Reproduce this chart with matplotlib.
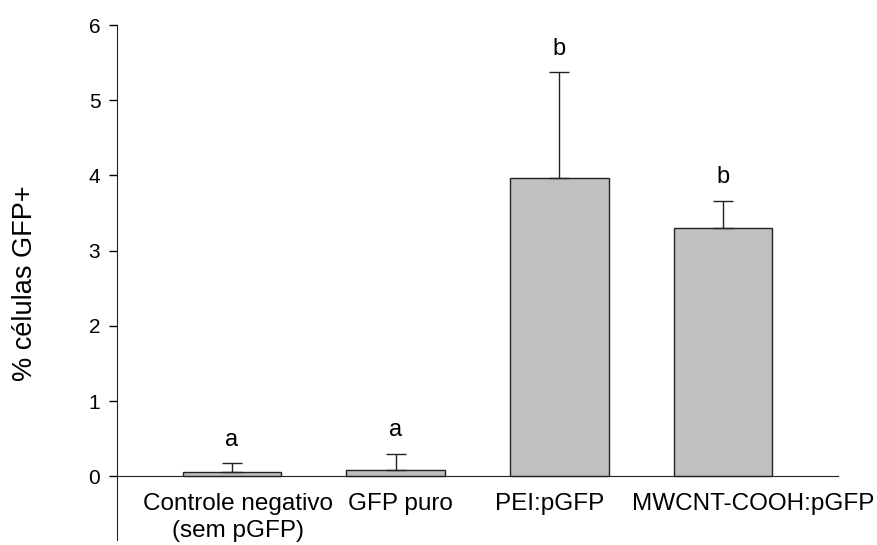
import numpy as np
import matplotlib.pyplot as plt

plt.rcParams['font.family'] = ['Liberation Sans', 'DejaVu Sans']

# dados
grupos = ['Controle negativo\n(sem pGFP)', 'GFP puro', 'PEI:pGFP', 'MWCNT-COOH:pGFP']
medias = [0.05, 0.08, 3.96, 3.30]
erros = [0.12, 0.22, 1.41, 0.36]
letras = ['a', 'a', 'b', 'b']

# deslocamento horizontal dos rótulos (px), como no original
desloc_px = [6, 5, -10, 30]

fig = plt.figure(figsize=(8.77, 5.45), dpi=100)
ax = fig.add_axes([0.1334, 0.009, 0.8221, 0.945])

x = np.arange(len(grupos))
ax.bar(x, medias, width=0.6, color='#c0c0c0', edgecolor='#222222', linewidth=1.0, zorder=2)
ax.errorbar(x, medias, yerr=[np.zeros(len(erros)), erros], fmt='none',
            ecolor='#222222', elinewidth=1.0, capsize=7, capthick=1.0, zorder=3)

for xi, m, e, l in zip(x, medias, erros, letras):
    ax.text(xi, m + e + 0.17, l, ha='center', va='bottom', fontsize=17)

# rótulos do eixo x como texto (para poder deslocar)
for xi, g, d in zip(x, grupos, desloc_px):
    ax.annotate(g, xy=(xi, 0), xytext=(d, -17), textcoords='offset pixels',
                ha='center', va='top', fontsize=17.5, linespacing=1.3)

ax.set_xlim(-0.7, 3.7)
ax.set_ylim(-0.85, 6)
ax.set_yticks(range(0, 7))
ax.set_xticks([])
ax.tick_params(axis='y', labelsize=15, length=6, width=1, pad=6)

ax.spines['top'].set_visible(False)
ax.spines['right'].set_visible(False)
ax.spines['bottom'].set_position(('data', 0))
ax.spines['left'].set_color('#222222')
ax.spines['bottom'].set_color('#222222')

ax.set_ylabel('% células GFP+', fontsize=19.5)
ax.yaxis.set_label_coords(-0.11, 0.498)

fig.savefig('out.png', dpi=100)
